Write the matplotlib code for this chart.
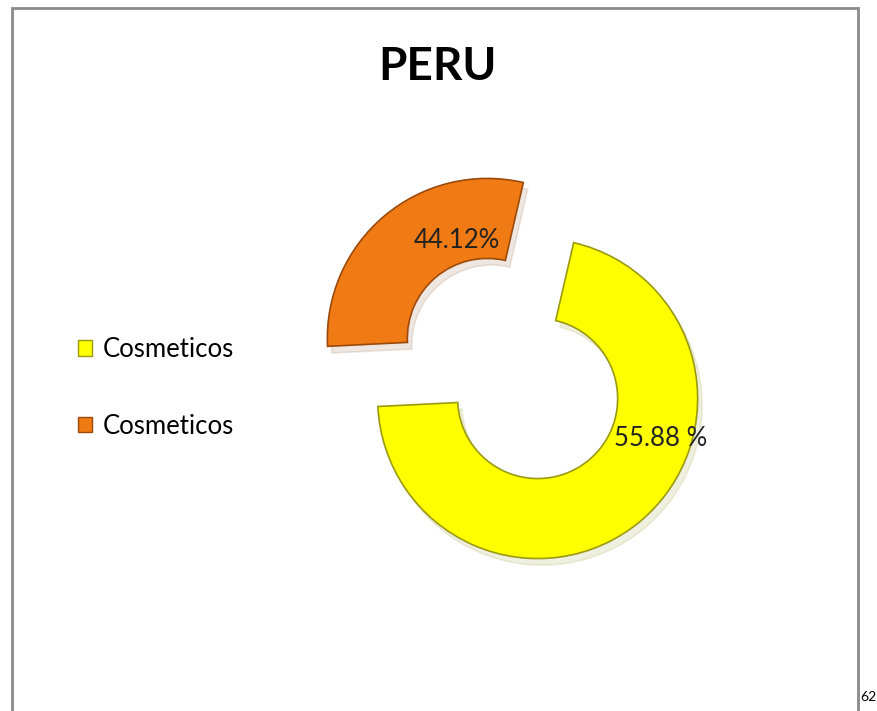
"""
Exploded doughnut chart: PERU, Cosmeticos share.
"""

import matplotlib
matplotlib.use('Agg')
import matplotlib.pyplot as plt
import matplotlib.patches as patches
import numpy as np

# Data
categories = ['Cosmeticos', 'Cosmeticos']
slice_sizes = [70.6, 29.4]          # drawn angular share of each ring segment
pct_labels = ['55.88 %', '44.12%']  # printed labels on the segments
colors = ['#FFFF00', '#F07A14']
edge_colors = ['#9A9A10', '#9C4A0A']
title = 'PERU'
page_number = '62'

plt.rcParams['font.family'] = ['Lato', 'DejaVu Sans']

fig = plt.figure(figsize=(8.77, 7.11), dpi=100)
ax = fig.add_axes([0, 0, 1, 1])

# Doughnut, clockwise, first slice starting just right of 12 o'clock
wedges, _ = ax.pie(
    slice_sizes, colors=colors, startangle=77, counterclock=False,
    explode=[0.245, 0.245], radius=1.0,
    wedgeprops=dict(width=0.5, linewidth=1.2),
    shadow={'ox': 0.02, 'oy': -0.03, 'shade': 0.5, 'alpha': 0.12},
)
for w, ec in zip(wedges, edge_colors):
    w.set_edgecolor(ec)

# 1 data unit = 160 px, ring centre at (512, 368) px from the top left
ax.set_xlim(-512.5 / 160, (877 - 512.5) / 160)
ax.set_ylim(-(711 - 368.5) / 160, 368.5 / 160)
ax.set_aspect('equal')
ax.axis('off')

# Percentage labels, offset from each exploded segment's centre
label_spots = [(0.81, -18), (0.64, 107.5)]
for w, txt, (r, a) in zip(wedges, pct_labels, label_spots):
    cx, cy = w.center
    ax.text(cx + r * np.cos(np.radians(a)), cy + r * np.sin(np.radians(a)), txt,
            ha='center', va='center', fontsize=18.5, color='#222222')

fig.text(437 / 877, 1 - 67 / 711, title, ha='center', va='center',
         fontsize=33, fontweight='bold', color='black')

handles = [patches.Patch(facecolor=c, edgecolor=ec, linewidth=1)
           for c, ec in zip(colors, edge_colors)]
fig.legend(handles, categories, loc='center left',
           bbox_to_anchor=(78 / 877, 1 - 388 / 711), frameon=False,
           fontsize=18.5, handlelength=0.55, handleheight=0.55, handletextpad=0.4,
           labelspacing=2.0, borderpad=0, borderaxespad=0)

# Slide frame and page number
frame = patches.Rectangle((12 / 877, -0.05), (858 - 12) / 877, 1.05 - 8 / 711,
                          transform=fig.transFigure, fill=False,
                          edgecolor='#8a8a8a', linewidth=2)
fig.patches.append(frame)
fig.text(860 / 877, 1 - 697 / 711, page_number, ha='left', va='center',
         fontsize=10, color='black')

plt.savefig('out.png', dpi=100)
